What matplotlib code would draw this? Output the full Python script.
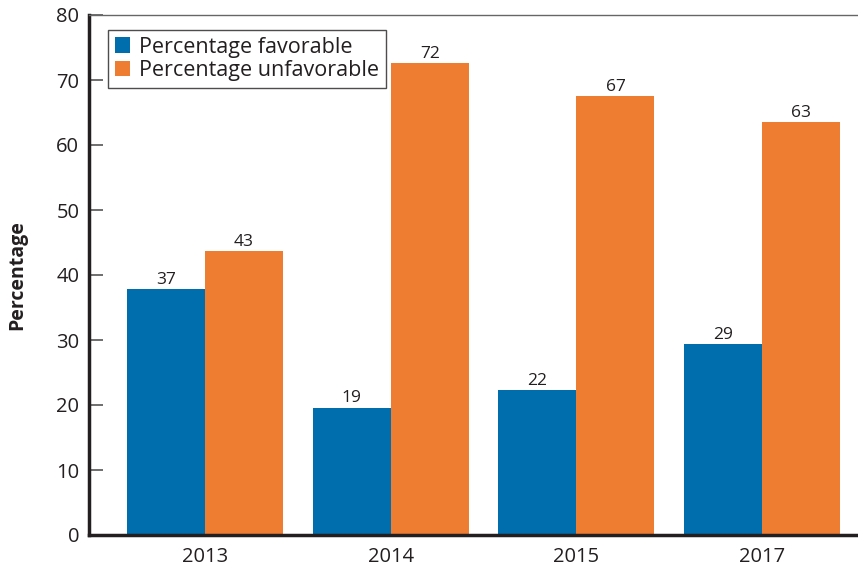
import matplotlib
matplotlib.use('Agg')
import matplotlib.pyplot as plt
import numpy as np

plt.rcParams['font.family'] = ['Open Sans', 'DejaVu Sans']

years = ['2013', '2014', '2015', '2017']
favorable = [37.8, 19.6, 22.3, 29.4]
unfavorable = [43.7, 72.6, 67.5, 63.5]
fav_labels = ['37', '19', '22', '29']
unfav_labels = ['43', '72', '67', '63']

blue = '#006dac'
orange = '#ee7d31'
dark = '#231f20'

fig = plt.figure(figsize=(8.58, 5.73), dpi=100)
ax = fig.add_axes([89/858, 38/573, 1 - 89/858, 520/573])

x = np.arange(len(years))
w = 0.42
b1 = ax.bar(x - w/2, favorable, w, color=blue, label='Percentage favorable')
b2 = ax.bar(x + w/2, unfavorable, w, color=orange, label='Percentage unfavorable')

for bars, labs in [(b1, fav_labels), (b2, unfav_labels)]:
    for r, lab in zip(bars, labs):
        ax.text(r.get_x() + r.get_width()/2, r.get_height() + 0.2, lab,
                ha='center', va='bottom', fontsize=12.5, color=dark)

ax.set_ylim(0, 80)
ax.set_xlim(-0.625, 3.516)
ax.set_yticks(range(0, 81, 10))
ax.set_xticks(x)
ax.set_xticklabels(years)
ax.tick_params(axis='y', direction='in', length=10, width=1.2, color='#555555',
               labelsize=14.5, labelcolor=dark, pad=7)
ax.tick_params(axis='x', length=0, labelsize=14.5, labelcolor=dark, pad=9)

ax.spines['left'].set_linewidth(2.5)
ax.spines['left'].set_color(dark)
ax.spines['bottom'].set_linewidth(2.5)
ax.spines['bottom'].set_color(dark)
ax.spines['top'].set_linewidth(1.0)
ax.spines['top'].set_color('#666666')
ax.spines['right'].set_visible(False)

ax.set_ylabel('Percentage', fontsize=14, fontweight='bold', color=dark, labelpad=21)

leg = ax.legend(loc='upper left', bbox_to_anchor=(0.025, 0.971), fontsize=15.5,
                frameon=True, fancybox=False, handlelength=0.7, handleheight=0.7,
                handletextpad=0.45, borderpad=0.3, labelspacing=0.12, borderaxespad=0)
leg.get_frame().set_edgecolor(dark)
leg.get_frame().set_linewidth(1.0)
for t in leg.get_texts():
    t.set_color(dark)

fig.savefig('out.png', dpi=100)
